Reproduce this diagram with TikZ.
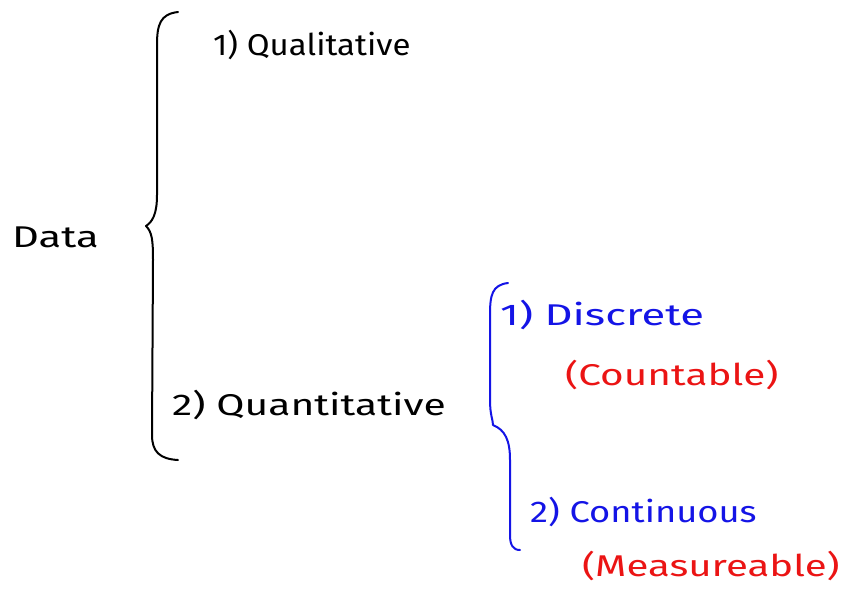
\documentclass[tikz,border=0pt]{standalone}
\usepackage{fontspec}
\setmainfont{Fira Sans}
\definecolor{hblue}{RGB}{20,20,230}
\definecolor{hred}{RGB}{235,20,20}
\begin{document}
\begin{tikzpicture}[x=1pt,y=-1pt,
  lbl/.style={anchor=west,inner sep=0pt,font=\fontsize{30}{34}\selectfont},
  brace/.style={line width=2pt,line cap=round,line join=round}]
\useasboundingbox (0,0) rectangle (843,592);
\fill[white] (0,0) rectangle (843,592);
\node[lbl] (data) at (12,237) {\scalebox{1.39}[1]{Data}};
\node[lbl] (qual) at (213,45) {\scalebox{1.10}[1]{1) Qualitative}};
\node[lbl] (quan) at (172,405) {\scalebox{1.36}[1]{2) Quantitative}};
\node[lbl,text=hblue] (disc) at (500,315) {\scalebox{1.45}[1]{1) Discrete}};
\node[lbl,text=hred] (count) at (565,375) {\scalebox{1.35}[1]{(Countable)}};
\node[lbl,text=hblue] (cont) at (530,512) {\scalebox{1.21}[1]{2) Continuous}};
\node[lbl,text=hred] (meas) at (582,566) {\scalebox{1.34}[1]{(Measureable)}};
\coordinate (bt) at (178,12);
\coordinate (bm) at (146,226);
\coordinate (bb) at (178,460);
\draw[brace] (bt) .. controls (160,14) and (157,25) .. (157,45) -- (157,195)
  .. controls (157,215) and (152,222) .. (bm)
  .. controls (152,232) and (153,240) .. (153,260) -- (152,435)
  .. controls (152,452) and (160,459) .. (bb);
\coordinate (ct) at (508,283);
\coordinate (cm) at (493,425);
\coordinate (cb) at (520,550);
\draw[brace,hblue] (ct) .. controls (492,285) and (490,295) .. (490,315) -- (490,400)
  .. controls (490,415) and (493,420) .. (cm)
  .. controls (505,430) and (510,440) .. (510,460) -- (510,535)
  .. controls (510,545) and (513,550) .. (cb);
\end{tikzpicture}
\end{document}
